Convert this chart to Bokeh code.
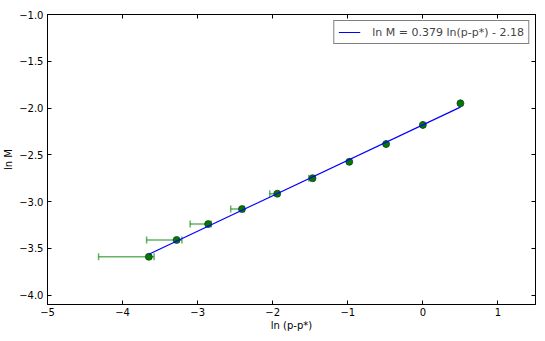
from bokeh.plotting import figure
from bokeh.models import (ColumnDataSource, Whisker, TeeHead, LinearAxis, FixedTicker, Range1d,
                          Legend, LegendItem, CustomJSTickFormatter)
from bokeh.embed import file_html
from bokeh.resources import INLINE

# data
ln_p = [-3.65, -3.28, -2.86, -2.41, -1.94, -1.47, -0.98, -0.49, 0.0, 0.5]
ln_m = [-3.59, -3.41, -3.24, -3.08, -2.915, -2.75, -2.575, -2.385, -2.18, -1.95]
err_lower = [-4.32, -3.68, -3.10, -2.56, -2.04, -1.52, -0.98, -0.49, 0.0, 0.5]
err_upper = [-3.58, -3.21, -2.82, -2.38, -1.92, -1.45, -0.98, -0.49, 0.0, 0.5]
slope = 0.379
intercept = -2.18
fit_label = "ln M = 0.379 ln(p-p*) - 2.18"
x_ticks = [-5, -4, -3, -2, -1, 0, 1]
x_tick_labels = ["\u22125", "\u22124", "\u22123", "\u22122", "\u22121", "0", "1"]
y_ticks = [-4.0, -3.5, -3.0, -2.5, -2.0, -1.5, -1.0]
y_tick_labels = ["\u22124.0", "\u22123.5", "\u22123.0", "\u22122.5", "\u22122.0", "\u22121.5", "\u22121.0"]

FONT = "DejaVu Sans"

p = figure(width=537, height=333, output_backend="svg", toolbar_location=None,
           x_range=Range1d(-5, 1.5), y_range=Range1d(-4.1, -1.0),
           min_border_left=44, min_border_right=2, min_border_top=14, min_border_bottom=26)
p.xgrid.visible = False
p.ygrid.visible = False
p.outline_line_color = "black"
p.outline_line_width = 1
p.background_fill_color = "white"
p.border_fill_color = "white"

src = ColumnDataSource(dict(x=ln_p, y=ln_m, lo=err_lower, hi=err_upper))

whisk = Whisker(source=src, base="y", lower="lo", upper="hi", dimension="width",
                line_color="#008000", line_alpha=0.6, line_width=1.5,
                lower_head=TeeHead(size=7, line_color="#008000", line_alpha=0.6, line_width=1.5),
                upper_head=TeeHead(size=7, line_color="#008000", line_alpha=0.6, line_width=1.5))
p.add_layout(whisk)

p.scatter("x", "y", source=src, size=7, fill_color="#007a00", line_color="#1a331a", line_width=0.7)

fit_x = [ln_p[0], ln_p[-1]]
fit_y = [slope * v + intercept for v in fit_x]
fit = p.line(fit_x, fit_y, line_color="#0000ff", line_width=1.2)

legend = Legend(items=[LegendItem(label=fit_label, renderers=[fit])], location="top_right",
                border_line_color="black", border_line_width=1, label_text_font=FONT,
                label_text_font_size="11px", glyph_width=22, glyph_height=14, padding=4,
                margin=6, label_standoff=12, spacing=0, background_fill_alpha=1)
p.add_layout(legend)

def style_axis(ax, ticks, labels, show_labels=True):
    ax.ticker = FixedTicker(ticks=ticks)
    ax.major_tick_in = 4
    ax.major_tick_out = 0
    ax.minor_tick_in = 0
    ax.minor_tick_out = 0
    ax.axis_line_color = "black"
    ax.major_tick_line_color = "black"
    ax.major_label_text_font = FONT
    ax.major_label_text_font_size = "10px"
    ax.major_label_text_color = "black"
    ax.axis_label_text_font = FONT
    ax.axis_label_text_font_size = "10px"
    ax.axis_label_text_font_style = "normal"
    ax.axis_label_text_color = "black"
    if show_labels:
        ax.major_label_overrides = {t: l for t, l in zip(ticks, labels)}
    else:
        ax.formatter = CustomJSTickFormatter(code="return ''")
        ax.major_label_standoff = 0

style_axis(p.xaxis[0], x_ticks, x_tick_labels)
style_axis(p.yaxis[0], y_ticks, y_tick_labels)
p.xaxis[0].axis_label = "ln (p-p*)"
p.yaxis[0].axis_label = "ln M"
p.xaxis[0].major_label_standoff = 3
p.yaxis[0].major_label_standoff = 4
p.xaxis[0].axis_label_standoff = 1
p.yaxis[0].axis_label_standoff = 2

top_ax = LinearAxis()
right_ax = LinearAxis()
style_axis(top_ax, x_ticks, x_tick_labels, show_labels=False)
style_axis(right_ax, y_ticks, y_tick_labels, show_labels=False)
p.add_layout(top_ax, "above")
p.add_layout(right_ax, "right")

open("out.html", "w").write(file_html(p, INLINE))
